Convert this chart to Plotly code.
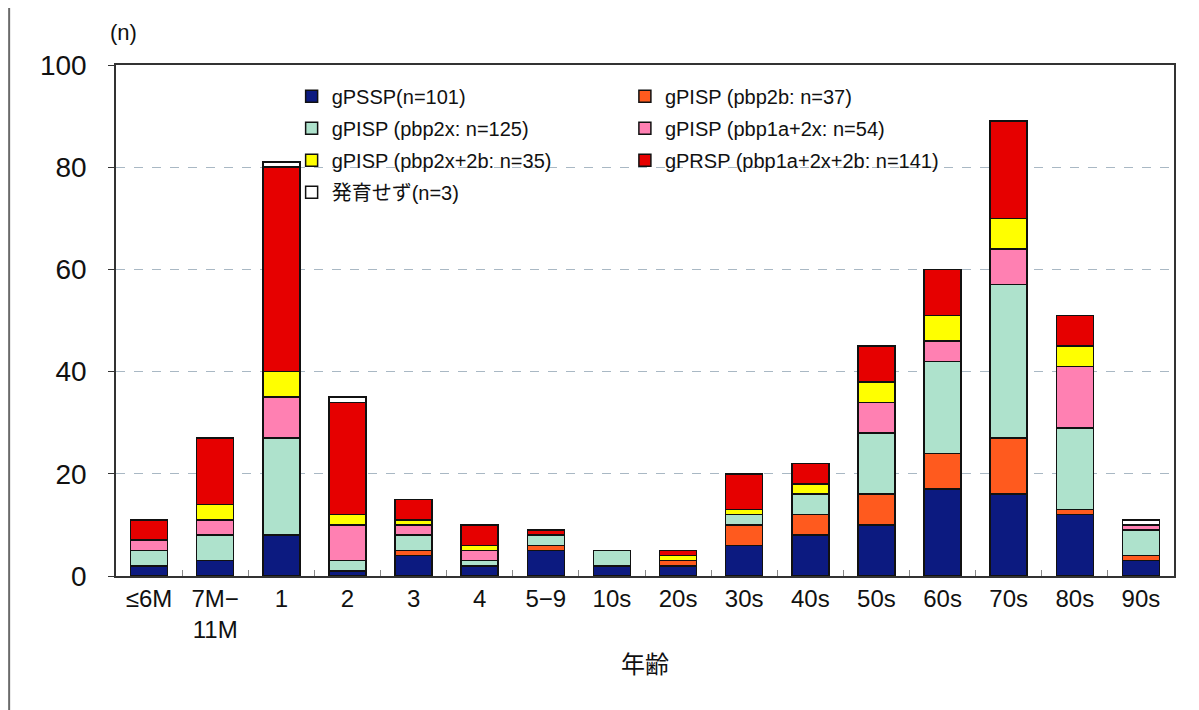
import plotly.graph_objects as go

categories = ["≤6M", "7M−<br>11M", "1", "2", "3", "4", "5−9", "10s", "20s",
              "30s", "40s", "50s", "60s", "70s", "80s", "90s"]

gpssp      = [2, 3, 8, 1, 4, 2, 5, 2, 2, 6, 8, 10, 17, 16, 12, 3]
pbp2b      = [0, 0, 0, 0, 1, 0, 1, 0, 1, 4, 4, 6, 7, 11, 1, 1]
pbp2x      = [3, 5, 19, 2, 3, 1, 2, 3, 0, 2, 4, 12, 18, 30, 16, 5]
pbp1a2x    = [2, 3, 8, 7, 2, 2, 0, 0, 0, 0, 0, 6, 4, 7, 12, 1]
pbp2x2b    = [0, 3, 5, 2, 1, 1, 0, 0, 1, 1, 2, 4, 5, 6, 4, 0]
gprsp      = [4, 13, 40, 22, 4, 4, 1, 0, 1, 7, 4, 7, 9, 19, 6, 0]
no_growth  = [0, 0, 1, 1, 0, 0, 0, 0, 0, 0, 0, 0, 0, 0, 0, 1]

series_names = [
    "gPSSP(n=101)",
    "gPISP (pbp2b: n=37)",
    "gPISP (pbp2x: n=125)",
    "gPISP (pbp1a+2x: n=54)",
    "gPISP (pbp2x+2b: n=35)",
    "gPRSP (pbp1a+2x+2b: n=141)",
    "発育せず(n=3)",
]
series_values = [gpssp, pbp2b, pbp2x, pbp1a2x, pbp2x2b, gprsp, no_growth]
colors = ["#0c1a80", "#ff5a1e", "#aee2cc", "#ff80b2", "#ffff00", "#e60000", "#ffffff"]
legend_ids = ["legend", "legend2", "legend", "legend2", "legend", "legend2", "legend"]

FONT = "Liberation Sans, Noto Sans CJK JP, sans-serif"

fig = go.Figure()
for i, (name, vals, col, lg) in enumerate(zip(series_names, series_values, colors, legend_ids)):
    fig.add_trace(go.Bar(
        x=categories, y=vals, name=name,
        marker=dict(color=col, line=dict(color="#111111", width=1.5)),
        legend=lg, legendgroup=f"g{i}",
    ))

legend_common = dict(
    font=dict(family=FONT, size=20, color="#111111"),
    bgcolor="rgba(0,0,0,0)", traceorder="grouped", tracegroupgap=3,
    xanchor="left", yanchor="top", orientation="v",
)

fig.update_layout(
    width=1191, height=702,
    barmode="stack", bargap=0.44,
    plot_bgcolor="white", paper_bgcolor="white",
    margin=dict(l=108, r=25, t=57, b=134),
    font=dict(family=FONT, color="#111111"),
    legend=dict(x=0.166, y=0.977, **legend_common),
    legend2=dict(x=0.481, y=0.977, **legend_common),
    xaxis=dict(
        showline=True, linecolor="#333333", linewidth=1.5, mirror=True,
        ticks="inside", tickson="boundaries", ticklen=6, tickcolor="#888888",
        tickfont=dict(family=FONT, size=24, color="#111111"),
        title=dict(text="年齢", font=dict(family=FONT, size=24, color="#111111"), standoff=14),
    ),
    yaxis=dict(
        range=[0, 100], dtick=20,
        showline=True, linecolor="#333333", linewidth=1.5, mirror=True,
        ticks="outside", ticklen=6, tickcolor="#333333",
        ticklabelstandoff=16,
        tickfont=dict(family=FONT, size=28, color="#111111"),
        showgrid=True, gridcolor="#a9b8c4", griddash="dash", gridwidth=1,
        zeroline=False,
    ),
    annotations=[dict(
        text="(n)", xref="paper", yref="paper", x=-0.008, y=1.036,
        xanchor="left", yanchor="bottom", showarrow=False,
        font=dict(family=FONT, size=22, color="#111111"),
    )],
    shapes=[dict(
        type="line", xref="paper", yref="paper",
        x0=-0.101, x1=-0.101, y0=-0.27, y1=1.12,
        line=dict(color="#6a6a6a", width=2),
    )],
)

fig.write_html("out.html")
